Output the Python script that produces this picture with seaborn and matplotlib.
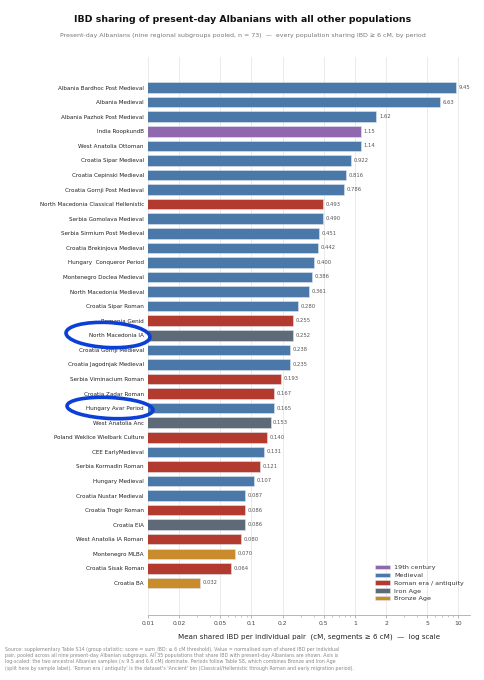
import matplotlib
matplotlib.use('Agg')
import pandas as pd
import matplotlib.pyplot as plt
import seaborn as sns
from matplotlib.patches import Ellipse

populations = [
    'Albania Bardhoc Post Medieval', 'Albania Medieval', 'Albania Pazhok Post Medieval',
    'India RoopkundB', 'West Anatolia Ottoman', 'Croatia Sipar Medieval',
    'Croatia Cepinski Medieval', 'Croatia Gornji Post Medieval',
    'North Macedonia Classical Hellenistic', 'Serbia Gomolava Medieval',
    'Serbia Sirmium Post Medieval', 'Croatia Brekinjova Medieval',
    'Hungary  Conqueror Period', 'Montenegro Doclea Medieval', 'North Macedonia Medieval',
    'Croatia Sipar Roman', 'Romania Genid', 'North Macedonia IA', 'Croatia Gornji Medieval',
    'Croatia Jagodnjak Medieval', 'Serbia Viminacium Roman', 'Croatia Zadar Roman',
    'Hungary Avar Period', 'West Anatolia Anc', 'Poland Weklice Wielbark Culture',
    'CEE EarlyMedieval', 'Serbia Kormadin Roman', 'Hungary Medieval',
    'Croatia Nustar Medieval', 'Croatia Trogir Roman', 'Croatia EIA',
    'West Anatolia IA Roman', 'Montenegro MLBA', 'Croatia Sisak Roman', 'Croatia BA',
]
ibd = [
    9.45, 6.63, 1.62, 1.15, 1.14, 0.922, 0.816, 0.786, 0.493, 0.490,
    0.451, 0.442, 0.400, 0.386, 0.361, 0.280, 0.255, 0.252, 0.238, 0.235,
    0.193, 0.167, 0.165, 0.153, 0.140, 0.131, 0.121, 0.107, 0.087, 0.086,
    0.086, 0.080, 0.070, 0.064, 0.032,
]
M, R, I, B, C = 'Medieval', 'Roman era / antiquity', 'Iron Age', 'Bronze Age', '19th century'
periods = [
    M, M, M, C, M, M, M, M, R, M,
    M, M, M, M, M, M, R, I, M, M,
    R, R, M, I, R, M, R, M, M, R,
    I, R, B, R, B,
]
period_order = [C, M, R, I, B]
period_colors = ['#9068ae', '#4a78a9', '#b33a2f', '#5e6a77', '#c98b2c']

df = pd.DataFrame({'population': populations, 'ibd': ibd, 'period': periods})

sns.set_style('white')
plt.rcParams['font.family'] = ['DejaVu Sans']

fig = plt.figure(figsize=(4.85, 6.8), dpi=100)
ax = fig.add_axes([148 / 485, 1 - 615 / 680, (470 - 148) / 485, (615 - 57) / 680])

sns.barplot(data=df, x='ibd', y='population', hue='period', hue_order=period_order,
            palette=period_colors, saturation=1, dodge=False, width=0.72, orient='h',
            edgecolor='#dfe6ee', linewidth=0.4, ax=ax)
ax.set_xscale('log')
ax.set_xlim(0.01, 13)
ax.set_ylim(36.2, -2.1)

for i, v in enumerate(ibd):
    label = f'{v:.2f}' if v >= 1 else f'{v:.3f}'
    ax.text(v * 1.06, i, label, va='center', ha='left', fontsize=3.8, color='#555555')

ticks = [0.01, 0.02, 0.05, 0.1, 0.2, 0.5, 1, 2, 5, 10]
ax.set_xticks(ticks)
ax.set_xticklabels(['0.01', '0.02', '0.05', '0.1', '0.2', '0.5', '1', '2', '5', '10'])
ax.grid(axis='x', which='major', color='#e6e6e6', linewidth=0.6)
ax.set_axisbelow(True)
ax.tick_params(axis='x', which='major', labelsize=4.3, length=2.5, width=0.5,
               color='#999999', labelcolor='#444444', pad=2, bottom=True)
ax.tick_params(axis='x', which='minor', length=1.5, width=0.4, color='#999999', bottom=True)
ax.tick_params(axis='y', labelsize=4.1, length=0, pad=3, labelcolor='#222222')
for side in ['top', 'right', 'left']:
    ax.spines[side].set_visible(False)
ax.spines['bottom'].set_color('#aaaaaa')
ax.spines['bottom'].set_linewidth(0.6)
ax.set_ylabel('')
ax.set_xlabel('Mean shared IBD per individual pair  (cM, segments \u2265 6 cM)  \u2014  log scale',
              fontsize=5.1, color='#222222', labelpad=5)

leg = ax.legend(loc='lower right', bbox_to_anchor=(1.0, 0.014), frameon=False,
                fontsize=4.6, handlelength=2.4, handleheight=0.65, labelspacing=0.38,
                handletextpad=0.7)
for t in leg.get_texts():
    t.set_color('#333333')

fig.text(0.5, 1 - 20 / 680, 'IBD sharing of present-day Albanians with all other populations',
         ha='center', va='center', fontsize=6.75, fontweight='bold', color='#111111')
fig.text(0.5, 1 - 35 / 680,
         'Present-day Albanians (nine regional subgroups pooled, n = 73)  \u2014  every population '
         'sharing IBD \u2265 6 cM, by period',
         ha='center', va='center', fontsize=4.5, color='#777777')

note = ("Source: supplementary Table S14 (group statistic; score = sum_IBD; \u2265 6 cM threshold). "
        "Value = normalised sum of shared IBD per individual\n"
        "pair, pooled across all nine present-day Albanian subgroups. All 35 populations that share "
        "IBD with present-day Albanians are shown. Axis is\n"
        "log-scaled: the two ancestral Albanian samples (\u2248 9.5 and 6.6 cM) dominate. Periods "
        "follow Table S8, which combines Bronze and Iron Age\n"
        "(split here by sample label). 'Roman era / antiquity' is the dataset's 'Ancient' bin "
        "(Classical/Hellenistic through Roman and early migration period).")
fig.text(5 / 485, 1 - 646 / 680, note, ha='left', va='top', fontsize=3.4,
         color='#888888', linespacing=1.35)

# hand-drawn highlight marks
for cx, cy, w, h in [(108, 335, 84, 25), (110, 408, 86, 21)]:
    fig.add_artist(Ellipse((cx / 485, 1 - cy / 680), w / 485, h / 680,
                           transform=fig.transFigure, fill=False,
                           edgecolor='#0b3fd6', linewidth=2.6, angle=-2))

fig.savefig('out.png', dpi=100)
